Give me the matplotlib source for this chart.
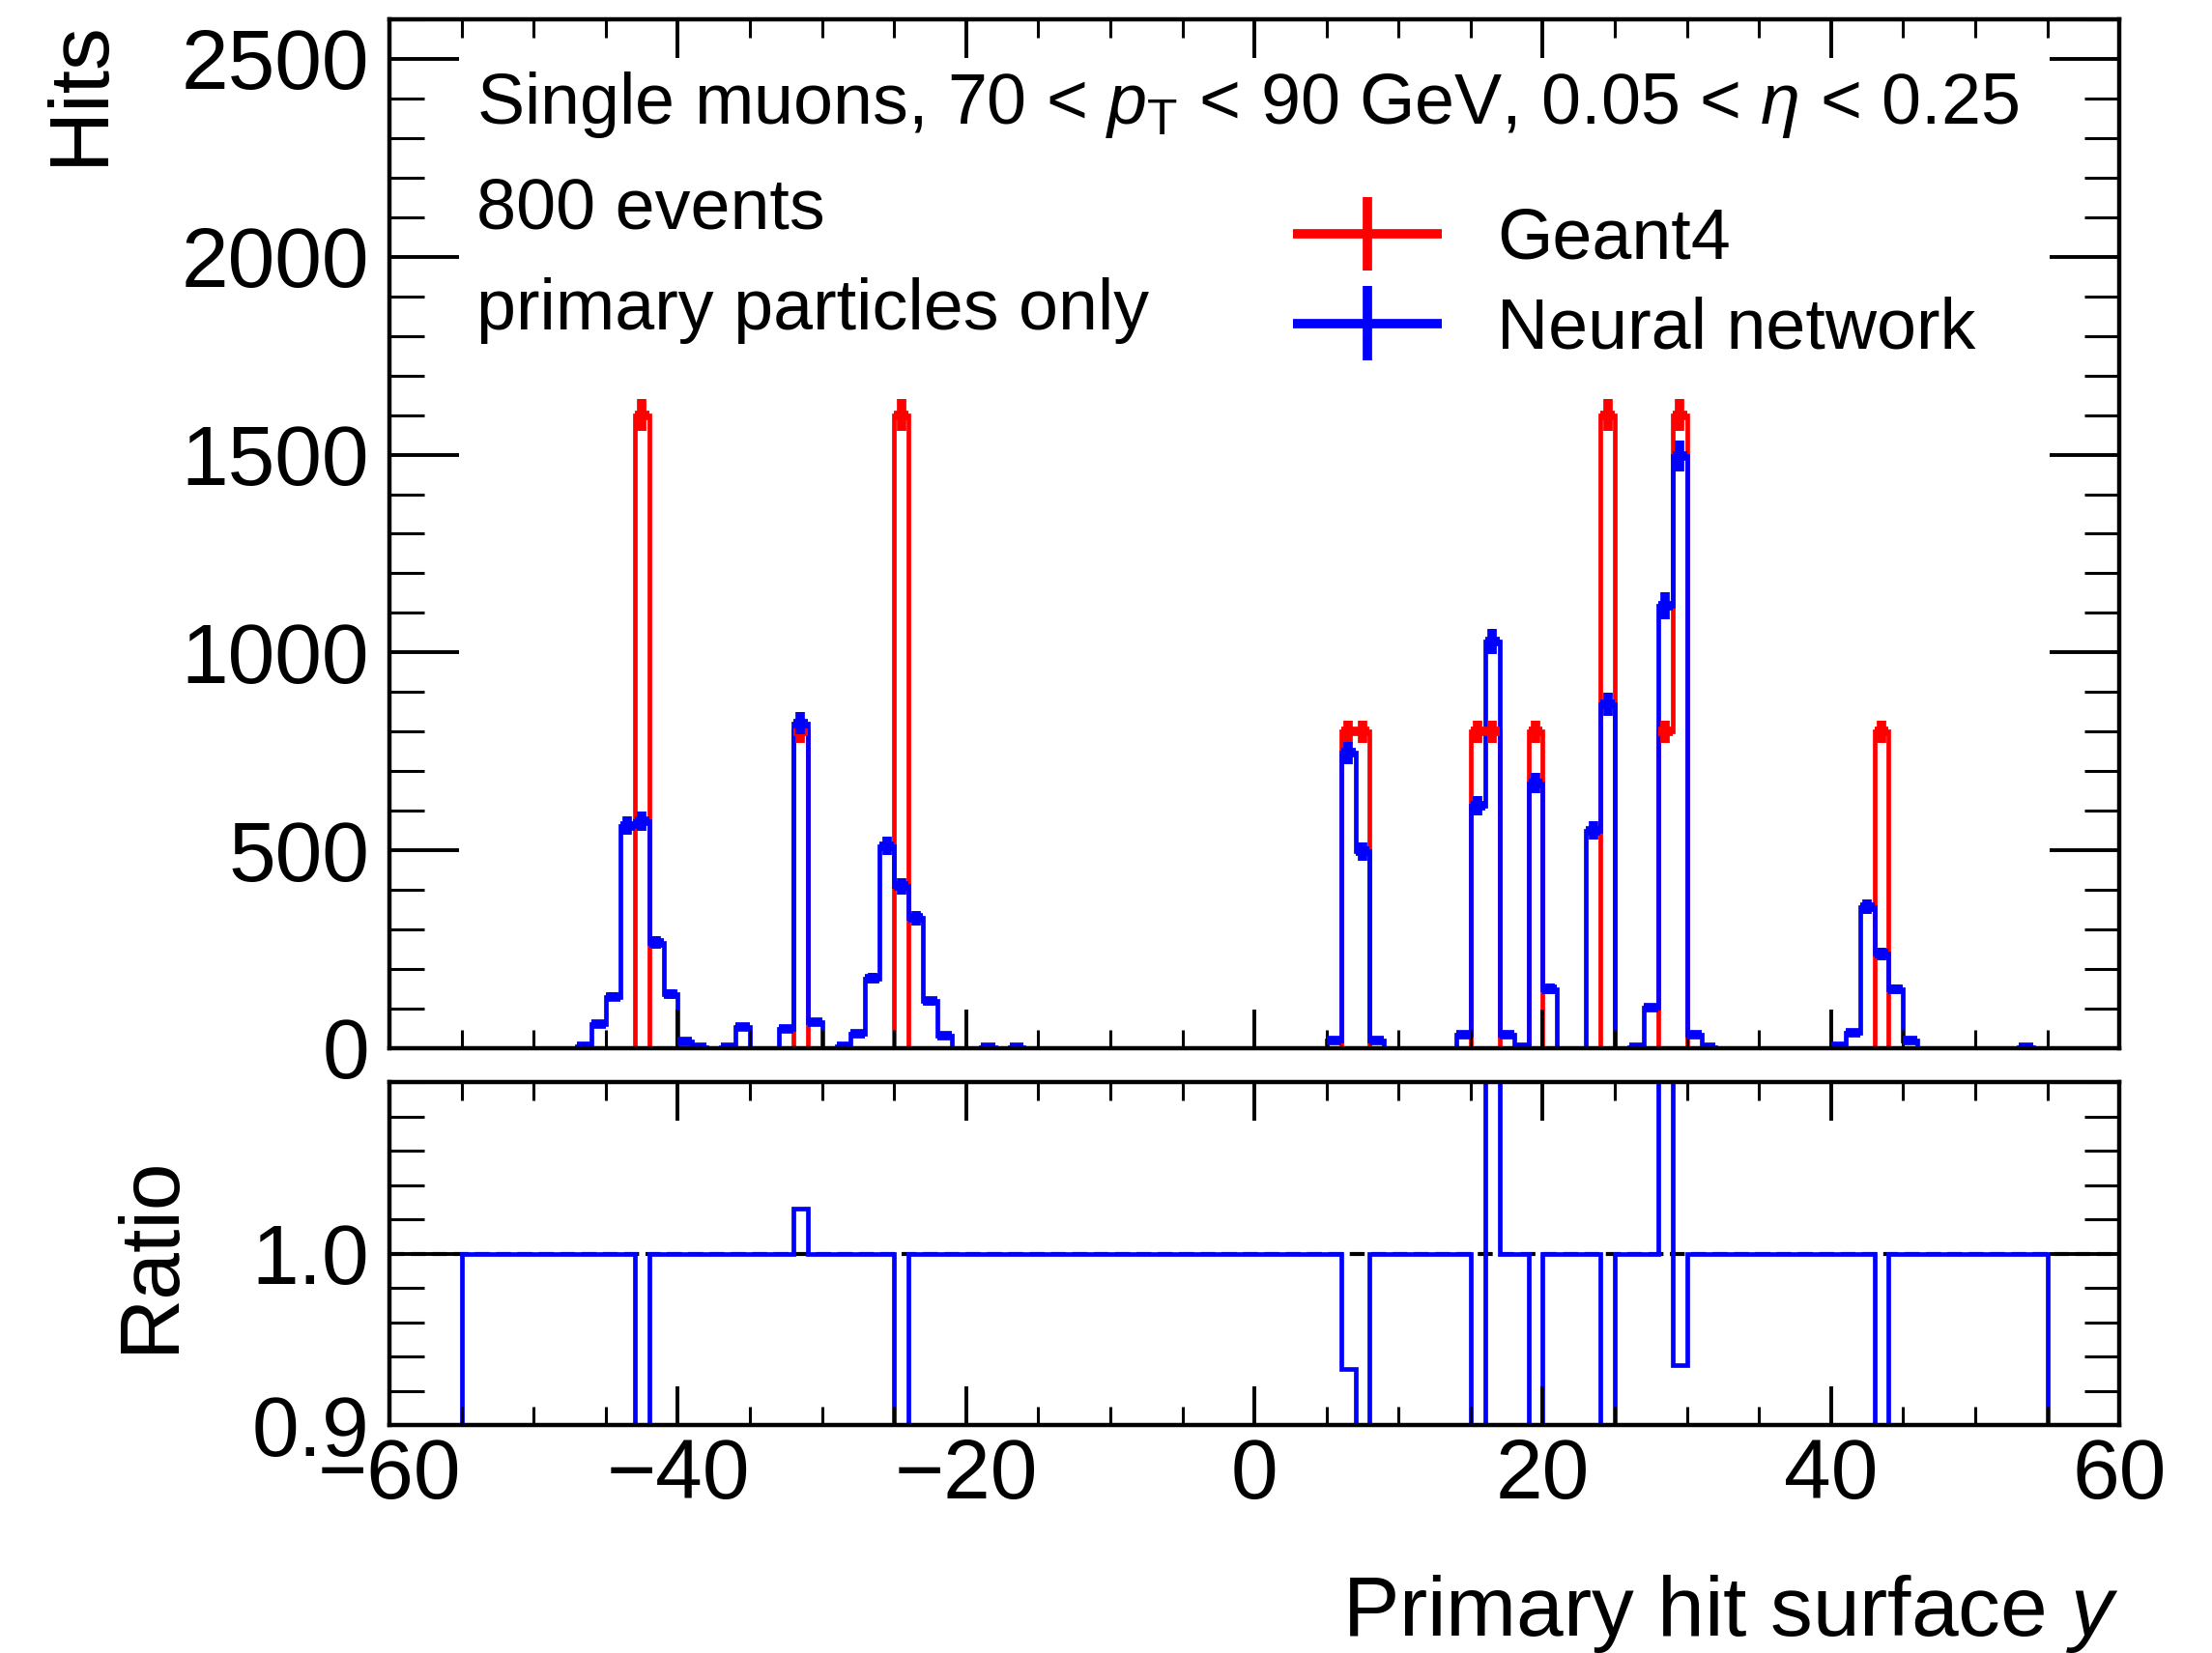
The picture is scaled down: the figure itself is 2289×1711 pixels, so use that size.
import numpy as np
import matplotlib
matplotlib.use("Agg")
import matplotlib.pyplot as plt
from matplotlib.ticker import MultipleLocator, FormatStrFormatter
from matplotlib.legend_handler import HandlerErrorbar

# Dati: istogramma con bin di larghezza 1 da -55 a 55
bin_lo = -55
bin_hi = 55

# Geant4: conteggi per bin (bordo inferiore -> conteggio), gli altri sono zero
g4_bins = [-43, -32, -25, 6, 7, 15, 16, 19, 24, 28, 29, 43]
g4_hits = [1600, 800, 1600, 800, 800, 800, 800, 800, 1600, 800, 1600, 800]

# Neural network: conteggi per bin (bordo inferiore -> conteggio)
nn_bins = [-47, -46, -45, -44, -43, -42, -41, -40, -39, -37, -36, -33, -32, -31,
           -29, -28, -27, -26, -25, -24, -23, -22, -19, -17,
           5, 6, 7, 8, 14, 15, 16, 17, 18, 19, 20, 23, 24, 26, 27, 28, 29, 30, 31,
           40, 41, 42, 43, 44, 45, 53]
nn_hits = [5, 60, 130, 562, 573, 267, 136, 17, 2, 2, 54, 48, 821, 66,
           5, 36, 176, 511, 409, 329, 119, 32, 2, 2,
           20, 746, 497, 20, 34, 613, 1027, 34, 2, 670, 150, 550, 868, 3, 102, 1118, 1496, 34, 2,
           5, 40, 357, 238, 148, 20, 2]

label_g4 = "Geant4"
label_nn = "Neural network"
info_lines = [r"Single muons, 70 < $p_\mathrm{T}$ < 90 GeV, 0.05 < $\eta$ < 0.25",
              "800 events",
              "primary particles only"]

plt.rcParams['font.family'] = ['Liberation Sans', 'DejaVu Sans']
plt.rcParams['mathtext.fontset'] = 'custom'
plt.rcParams['mathtext.rm'] = 'Liberation Sans'
plt.rcParams['mathtext.it'] = 'Liberation Sans:italic'
plt.rcParams['axes.linewidth'] = 3.2

edges = np.arange(bin_lo, bin_hi + 1)
centers = edges[:-1] + 0.5
g4 = np.zeros(len(centers))
nn = np.zeros(len(centers))
g4[np.array(g4_bins) - bin_lo] = g4_hits
nn[np.array(nn_bins) - bin_lo] = nn_hits
ratio = np.where(g4 > 0, nn / np.where(g4 > 0, g4, 1), 1.0)

fig = plt.figure(figsize=(22.89, 17.11), dpi=100)
ax = fig.add_axes([0.1761, 0.3659, 0.782, 0.6224])
rax = fig.add_axes([0.1761, 0.1379, 0.782, 0.2075])

# Istogrammi (barre d'errore solo sui bin pieni)
sel_g4 = g4 > 0
sel_nn = nn > 0
ax.stairs(g4, edges, color='red', lw=3.4, baseline=0)
eb_g4 = ax.errorbar(centers[sel_g4], g4[sel_g4], xerr=0.5, yerr=np.sqrt(g4[sel_g4]),
                    fmt='none', ecolor='red', elinewidth=7, label=label_g4)
ax.stairs(nn, edges, color='blue', lw=3.4, baseline=0)
eb_nn = ax.errorbar(centers[sel_nn], nn[sel_nn], xerr=0.5, yerr=np.sqrt(nn[sel_nn]),
                    fmt='none', ecolor='blue', elinewidth=7, label=label_nn)

# Rapporto
rax.axhline(1.0, color='black', lw=3, ls='--', zorder=1)
rax.stairs(ratio, edges, color='blue', lw=3.4, baseline=0)

ax.set_xlim(-60, 60)
ax.set_ylim(0, 2600)
rax.set_xlim(-60, 60)
rax.set_ylim(0.9, 1.1)

ax.xaxis.set_major_locator(MultipleLocator(20))
ax.xaxis.set_minor_locator(MultipleLocator(5))
ax.yaxis.set_major_locator(MultipleLocator(500))
ax.yaxis.set_minor_locator(MultipleLocator(100))
rax.xaxis.set_major_locator(MultipleLocator(20))
rax.xaxis.set_minor_locator(MultipleLocator(5))
rax.set_yticks([0.9, 1.0])
rax.yaxis.set_minor_locator(MultipleLocator(0.02))
rax.yaxis.set_major_formatter(FormatStrFormatter('%.1f'))

for a in (ax, rax):
    a.tick_params(which='both', direction='in', top=True, right=True, labelsize=63)
    a.tick_params(axis='y', which='major', length=52, width=2.8, pad=15)
    a.tick_params(axis='y', which='minor', length=26, width=2.2)
    a.tick_params(axis='x', which='major', length=29, width=2.8, pad=9)
    a.tick_params(axis='x', which='minor', length=14, width=2.2)
ax.tick_params(labelbottom=False)

ax.set_ylabel("Hits", fontsize=63, loc='top')
ax.yaxis.set_label_coords(-0.156, 1.0)
rax.set_ylabel("Ratio", fontsize=63)
rax.yaxis.set_label_coords(-0.115, 0.5)
rax.set_xlabel(r"Primary hit surface $y$", fontsize=63, loc='right')
rax.xaxis.set_label_coords(1.0, -0.43)

# Testo informativo
for i, line in enumerate(info_lines):
    ax.text(0.0503, [0.8986, 0.797, 0.6986][i], line, transform=ax.transAxes,
            fontsize=53, va='baseline', ha='left')

ax.legend(handles=[eb_g4, eb_nn], loc='upper left', bbox_to_anchor=(0.521, 0.818),
          frameon=False, fontsize=53, borderpad=0, borderaxespad=0,
          handlelength=2.15, handletextpad=0.75, labelspacing=0.32,
          handler_map={eb_g4: HandlerErrorbar(xerr_size=1.05, yerr_size=0.52),
                       eb_nn: HandlerErrorbar(xerr_size=1.05, yerr_size=0.52)})

fig.savefig("out.png", dpi=100)
